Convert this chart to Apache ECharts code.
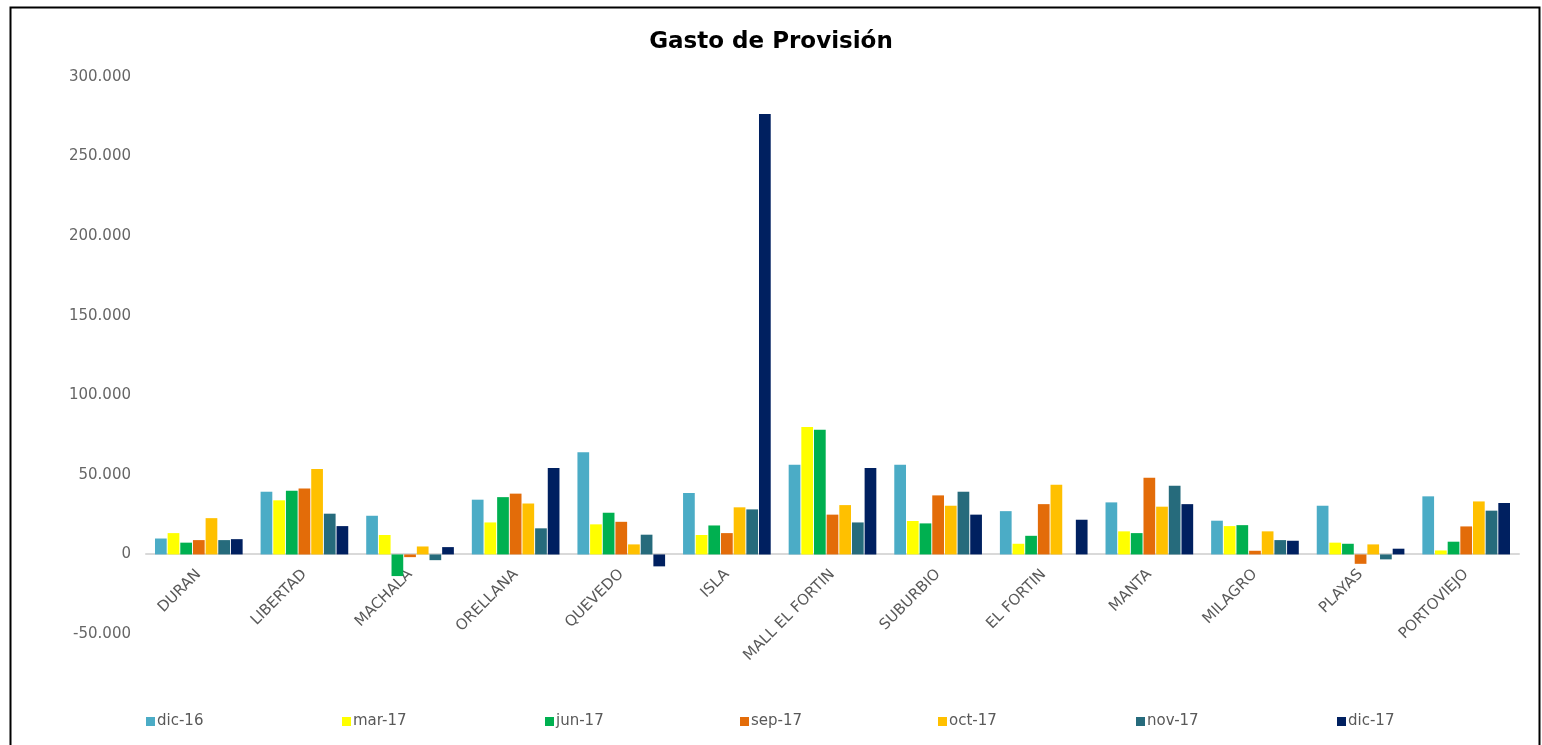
<!DOCTYPE html>
<html><head><meta charset="utf-8">
<script src="https://cdn.jsdelivr.net/npm/echarts@6/dist/echarts.min.js"></script>
<style>html,body{margin:0;padding:0;background:#fff}#c{width:1542px;height:745px}</style>
</head><body><div id="c"></div>
<script>
const categories = ["DURAN","LIBERTAD","MACHALA","ORELLANA","QUEVEDO","ISLA","MALL EL FORTIN","SUBURBIO","EL FORTIN","MANTA","MILAGRO","PLAYAS","PORTOVIEJO"];
const seriesNames = ["dic-16","mar-17","jun-17","sep-17","oct-17","nov-17","dic-17"];
const dic16 = [10000, 39400, 24300, 34400, 64200, 38600, 56400, 56400, 27200, 32700, 21200, 30600, 36500];
const mar17 = [13400, 34000, 12200, 20100, 18900, 12200, 80000, 21000, 6700, 14500, 17800, 7400, 2500];
const jun17 = [7400, 40000, -13600, 36000, 26200, 18200, 78400, 19500, 11700, 13400, 18400, 6700, 8000];
const sep17 = [9000, 41500, -1700, 38200, 20500, 13400, 25000, 37100, 31600, 48200, 2300, -5900, 17600];
const oct17 = [22800, 53700, 5000, 32000, 6300, 29600, 31000, 30600, 43800, 30000, 14500, 6300, 33300];
const nov17 = [9000, 25600, -3600, 16400, 12400, 28300, 20100, 39400, null, 43200, 9000, -3100, 27500];
const dic17 = [9600, 17800, 4600, 54300, -7500, 276800, 54300, 25000, 21800, 31600, 8600, 3600, 32300];
const yTicks = {min: -50000, max: 300000, interval: 50000};

const values = [dic16, mar17, jun17, sep17, oct17, nov17, dic17];
const colors = ["#4BACC6", "#FFFF00", "#00B050", "#E36C09", "#FFC000", "#266B7C", "#002060"];
const legendX = [141, 337, 540, 735, 933, 1131, 1332];
const font = "DejaVu Sans";

function fmt(v) {
  const s = Math.abs(v).toString().replace(/\B(?=(\d{3})+(?!\d))/g, ".");
  return (v < 0 ? "-" : "") + s;
}

const chart = echarts.init(document.getElementById('c'));
chart.setOption({
  animation: false,
  backgroundColor: '#fff',
  title: {
    text: 'Gasto de Provisión', left: 'center', top: 26,
    textStyle: {fontFamily: font, fontSize: 23, fontWeight: 'bold', color: '#000'}
  },
  legend: seriesNames.map((n, i) => ({
    data: [n], left: legendX[i], top: 709, itemWidth: 9, itemHeight: 9, itemGap: 4,
    icon: 'rect',
    textStyle: {fontFamily: font, fontSize: 15, color: '#595959', padding: [0, 0, 0, -3]}
  })),
  grid: {left: 146, right: 23, top: 77, bottom: 111, containLabel: false},
  xAxis: {
    type: 'category', data: categories,
    offset: -80,
    axisLine: {onZero: false, lineStyle: {color: '#D9D9D9', width: 2}},
    axisTick: {show: false},
    axisLabel: {rotate: 45, interval: 0, fontFamily: font, fontSize: 15, color: '#595959', margin: 18}
  },
  yAxis: {
    type: 'value', min: yTicks.min, max: yTicks.max, interval: yTicks.interval,
    splitLine: {show: false}, axisLine: {show: false}, axisTick: {show: false},
    axisLabel: {formatter: fmt, fontFamily: font, fontSize: 15, color: '#666', margin: 15}
  },
  series: seriesNames.map((n, i) => ({
    name: n, type: 'bar', data: values[i],
    barGap: '8%', barCategoryGap: '17%',
    itemStyle: {color: colors[i]}
  })),
  graphic: [{
    type: 'rect', left: 8, top: 5, silent: true,
    shape: {width: 1529, height: 800},
    style: {fill: 'none', stroke: '#000', lineWidth: 2}
  }]
});
</script></body></html>
